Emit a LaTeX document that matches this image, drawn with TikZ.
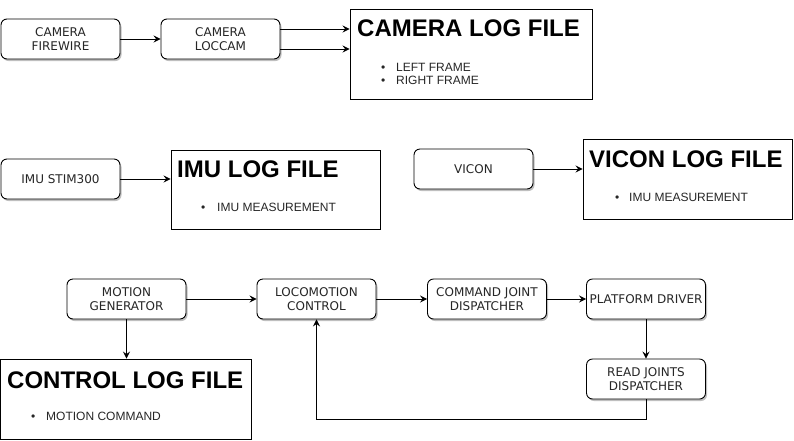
\documentclass[tikz,border=0pt]{standalone}
\usepackage{fontspec}
\setmainfont{Liberation Sans}
\newfontfamily\boxfont{DejaVu Sans}
\usetikzlibrary{arrows.meta,shadows}
\tikzset{
  x=1pt, y=-1pt,
  procbox/.style={draw=black, line width=0.9pt, rounded corners=6pt, fill=white,
    minimum width=119pt, minimum height=40pt, inner sep=0pt, align=center,
    text=black!85, font=\boxfont\fontsize{12pt}{13.5pt}\selectfont,
    drop shadow={shadow xshift=1.5pt, shadow yshift=-2pt, opacity=0.25, fill=black}},
  logbox/.style={draw=black, line width=0.9pt, fill=white, inner sep=0pt},
  logtitle/.style={anchor=base west, inner sep=0pt, font=\bfseries\fontsize{24pt}{28pt}\selectfont},
  logitem/.style={anchor=base west, inner sep=0pt, text=black!85, font=\fontsize{12pt}{14pt}\selectfont},
  arr/.style={draw=black, line width=0.9pt, -{Stealth[length=7pt,width=7pt,inset=2.5pt]}},
}
\newcommand{\bul}[2]{\makebox[#1][l]{\textbullet}#2}
\begin{document}
\begin{tikzpicture}
\path[use as bounding box] (0,0) rectangle (794,440);

% top row
\node[procbox] (fw) at (60.5,39) {CAMERA\\FIREWIRE};
\node[procbox] (lc0) at (220.5,39) {CAMERA\\LOCCAM};
\node[logbox, minimum width=242pt, minimum height=90pt] (camlog) at (471,54) {};
\node[logtitle] (camtitle) at (357,36) {CAMERA LOG FILE};
\node[logitem] (camit1) at (381,71) {\bul{15pt}{LEFT FRAME}};
\node[logitem] (camit2) at (381,84.3) {\bul{15pt}{RIGHT FRAME}};

% middle row
\node[procbox] (imu) at (60.5,179) {IMU STIM300};
\node[logbox, minimum width=209pt, minimum height=79pt] (imulog) at (275.5,189.5) {};
\node[logtitle] (imutitle) at (177,177) {IMU LOG FILE};
\node[logitem] (imuit) at (201,211.5) {\bul{16pt}{IMU MEASUREMENT}};

\node[procbox] (vicon) at (473.5,169) {VICON};
\node[logbox, minimum width=209pt, minimum height=80pt] (viclog) at (687.5,179) {};
\node[logtitle] (victitle) at (589,167.5) {VICON LOG FILE};
\node[logitem] (vicit) at (615,201) {\bul{14pt}{IMU MEASUREMENT}};

% bottom row
\node[procbox] (mg) at (126.5,299) {MOTION\\GENERATOR};
\node[procbox] (loco) at (316.5,299) {LOCOMOTION\\CONTROL};
\node[procbox] (cjd) at (487,299) {COMMAND JOINT\\DISPATCHER};
\node[procbox] (pd) at (646,299) {PLATFORM DRIVER};
\node[procbox] (rj) at (646,379) {READ JOINTS\\DISPATCHER};
\node[logbox, minimum width=251pt, minimum height=80pt] (ctrllog) at (126,399) {};
\node[logtitle] (ctrltitle) at (7,388) {CONTROL LOG FILE};
\node[logitem] (ctrlit) at (31,420.5) {\bul{15pt}{MOTION COMMAND}};

% connectors
\draw[arr] (fw.east) -- (lc0.west);
\coordinate (c1) at ([yshift=10pt]lc0.east);
\coordinate (c2) at ([yshift=-10pt]lc0.east);
\draw[arr] (c1) -- (c1 -| camlog.west);
\draw[arr] (c2) -- (c2 -| camlog.west);
\draw[arr] (imu.east) -- (imu.east -| imulog.west);
\draw[arr] (vicon.east) -- (vicon.east -| viclog.west);
\draw[arr] (mg.east) -- (loco.west);
\draw[arr] (loco.east) -- (cjd.west);
\draw[arr] (cjd.east) -- (pd.west);
\draw[arr] (mg.south) -- (mg.south |- ctrllog.north);
\draw[arr] (pd.south) -- (rj.north);
\draw[arr] (rj.south) -- ++(0,20) -| (loco.south);
\end{tikzpicture}
\end{document}
